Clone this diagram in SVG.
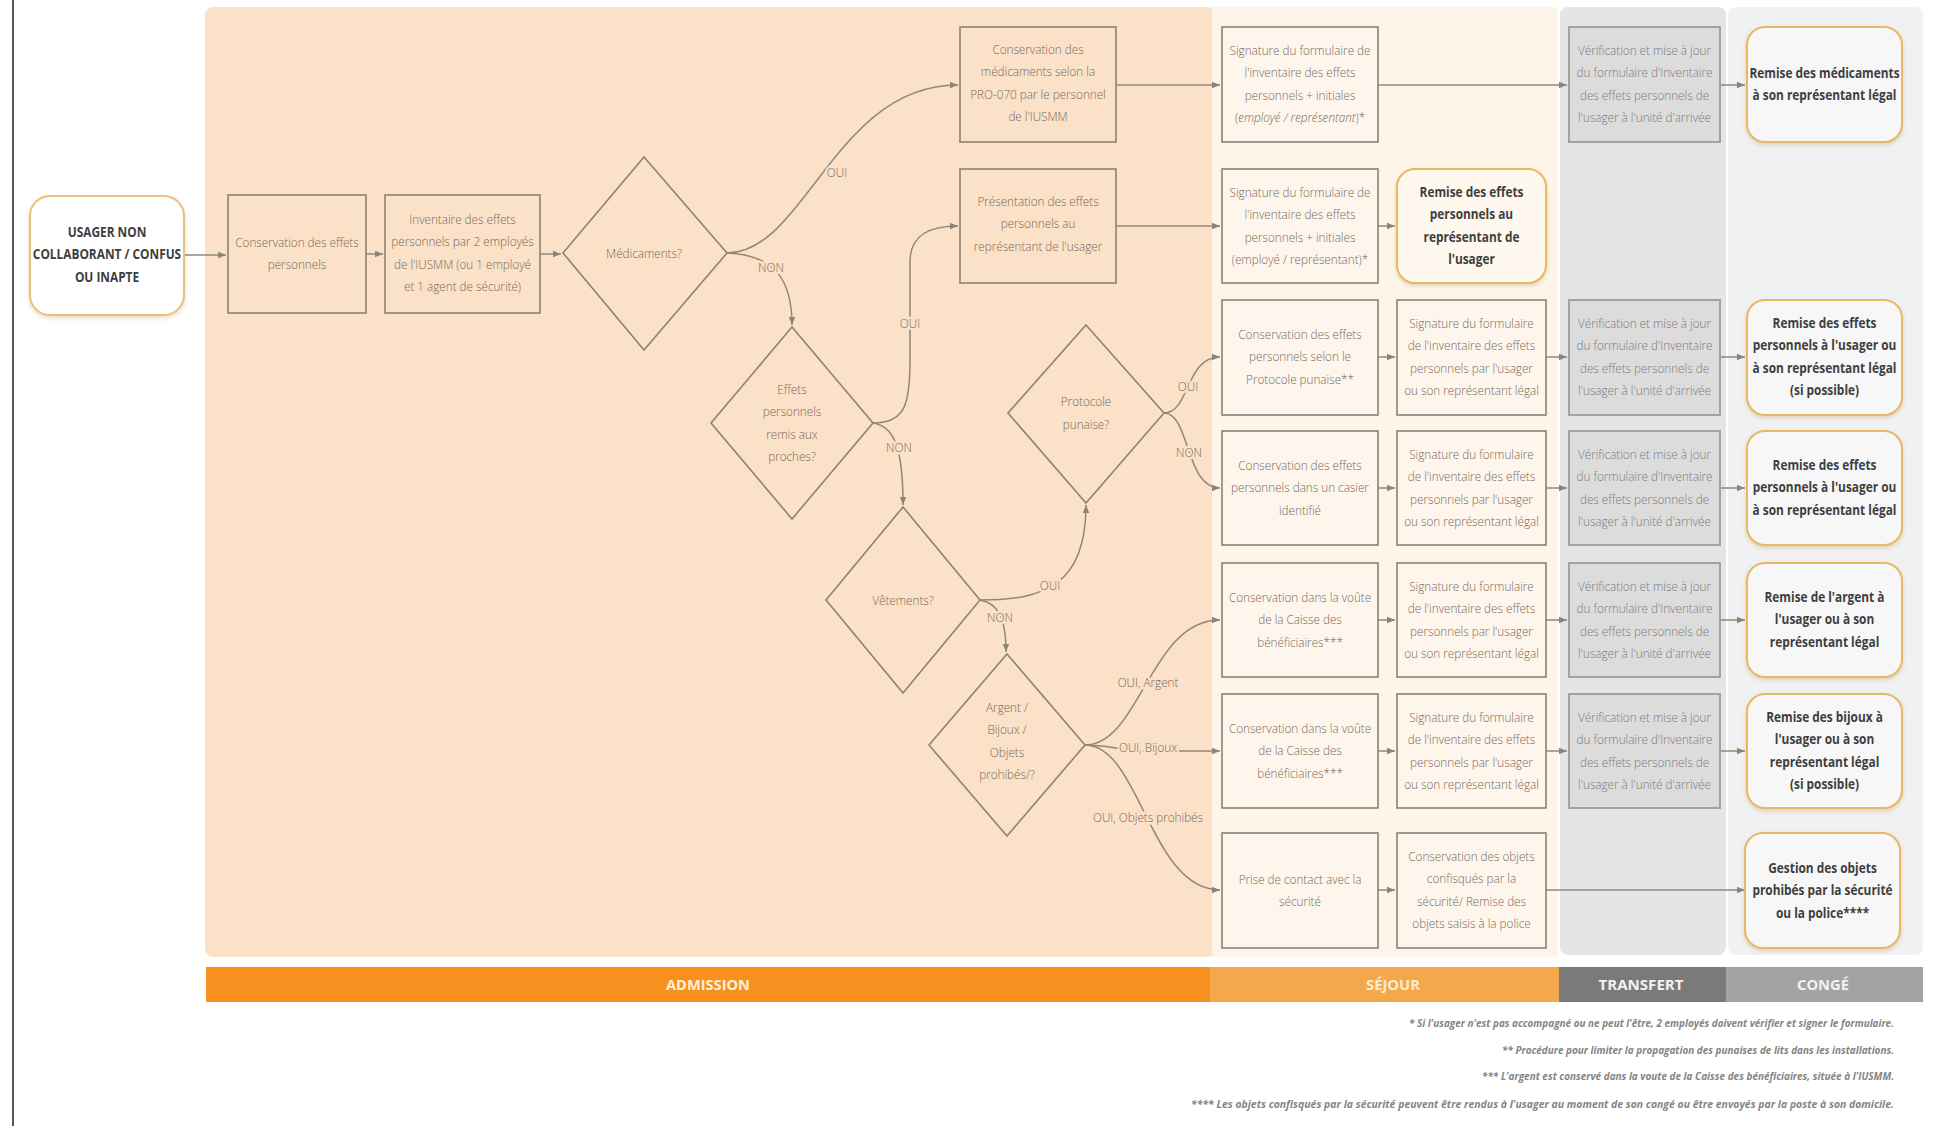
<svg xmlns="http://www.w3.org/2000/svg" width="1935" height="1126" viewBox="0 0 1935 1126">
  <defs>
    <marker id="ah" viewBox="0 0 10 10" refX="10" refY="5" markerWidth="9" markerHeight="8" markerUnits="userSpaceOnUse" orient="auto">
      <path d="M0,1 L10,5 L0,9 z" fill="#8E8476"/>
    </marker>
    <filter id="soft" x="-10%" y="-10%" width="120%" height="130%">
      <feDropShadow dx="0" dy="2" stdDeviation="2" flood-color="#B89058" flood-opacity="0.35"/>
    </filter>
    <style>
      .lane-adm { fill: #FBE1C7; }
      .lane-sej { fill: #FEF5EA; }
      .lane-tra { fill: #E5E5E5; }
      .lane-con { fill: #F0F1F2; }
      .box { fill: none; stroke: #8E8271; stroke-width: 1.6; }
      .box-s { fill: #FEF6EC; stroke: #8E8271; stroke-width: 1.6; }
      .box-t { fill: #DCDCDC; stroke: #A2A2A2; stroke-width: 2; }
      .dia { fill: none; stroke: #8E8271; stroke-width: 1.6; }
      .end { fill: #F7F7F7; stroke: #E8B865; stroke-width: 2; filter: url(#soft); }
      .end-w { fill: #FFFFFF; stroke: #E8C27C; stroke-width: 2; filter: url(#soft); }
      .end-p { fill: #FFF8EE; stroke: #E8B865; stroke-width: 2; filter: url(#soft); }
      .t { font-family: "Open Sans", "Liberation Sans", sans-serif; font-size: 13px; font-weight: 300; fill: #76695B; text-anchor: middle; }
      .tt { font-family: "Open Sans", "Liberation Sans", sans-serif; font-size: 13px; font-weight: 300; fill: #7A7A7A; text-anchor: middle; }
      .b { font-family: "Open Sans", "Liberation Sans", sans-serif; font-size: 13.5px; font-weight: 700; fill: #3E3E3E; text-anchor: middle; }
      .lbl { font-family: "Open Sans", "Liberation Sans", sans-serif; font-size: 13px; font-weight: 300; fill: #76695B; text-anchor: middle; stroke: #FBE1C7; stroke-width: 5; paint-order: stroke; stroke-linejoin: round; }
      .em { font-style: italic; }
      .con { fill: none; stroke: #918779; stroke-width: 1.5; marker-end: url(#ah); }
      .bar { font-family: "Open Sans", "Liberation Sans", sans-serif; font-size: 15px; font-weight: 700; text-anchor: middle; }
      .note { font-family: "Open Sans", "Liberation Sans", sans-serif; font-size: 10.5px; font-weight: 700; font-style: italic; fill: #858585; text-anchor: end; }
    </style>
  </defs>

  <rect width="1935" height="1126" fill="#FFFFFF"/>
  <line x1="13" y1="0" x2="13" y2="1126" stroke="#222222" stroke-width="1.5"/>

  <!-- swimlane backgrounds -->
  <g id="lanes">
    <rect class="lane-adm" x="205" y="7" width="1010" height="950" rx="8"/>
    <rect class="lane-sej" x="1212" y="7" width="346" height="950"/>
    <rect class="lane-tra" x="1560" y="7" width="166" height="948" rx="8"/>
    <rect class="lane-con" x="1728" y="7" width="195" height="948" rx="8"/>
  </g>

  <!-- phase bar -->
  <g id="phase-bar">
    <rect x="206" y="967" width="1004" height="35" fill="#F7901E"/>
    <rect x="1210" y="967" width="349" height="35" fill="#F3A84C"/>
    <rect x="1559" y="967" width="167" height="35" fill="#7A7A7A"/>
    <rect x="1726" y="967" width="197" height="35" fill="#A3A3A3"/>
    <text class="bar" x="708" y="990" fill="#FFF1DC" textLength="84" lengthAdjust="spacingAndGlyphs">ADMISSION</text>
    <text class="bar" x="1393" y="990" fill="#FFEBD2" textLength="54" lengthAdjust="spacingAndGlyphs">SÉJOUR</text>
    <text class="bar" x="1641" y="990" fill="#F2F2F2" textLength="85" lengthAdjust="spacingAndGlyphs">TRANSFERT</text>
    <text class="bar" x="1823" y="990" fill="#F2F2F2" textLength="52" lengthAdjust="spacingAndGlyphs">CONGÉ</text>
  </g>

  <!-- connectors -->
  <g id="connectors">
    <path class="con" d="M184,255 L226,255"/>
    <path class="con" d="M366,254 L383,254"/>
    <path class="con" d="M540,254 L561,254"/>
    <path class="con" d="M727,253 C805,253 835,85 958,85"/>
    <path class="con" d="M727,253 C775,255 792,280 792,325"/>
    <path class="con" d="M873,423 C905,423 910,405 910,360 L910,262 C910,238 925,226 958,226"/>
    <path class="con" d="M873,423 C893,426 903,445 903,505"/>
    <path class="con" d="M980,600 C1045,600 1086,585 1086,505"/>
    <path class="con" d="M980,600 C998,603 1006,618 1006,652"/>
    <path class="con" d="M1164,413 C1190,413 1185,357 1220,357"/>
    <path class="con" d="M1164,413 C1190,413 1185,488 1220,488"/>
    <path class="con" d="M1085,745 C1140,745 1150,620 1220,620"/>
    <path class="con" d="M1085,745 C1110,745 1120,751 1150,751 L1220,751"/>
    <path class="con" d="M1085,745 C1140,745 1150,890 1220,890"/>
    <path class="con" d="M1116,85 L1220,85"/>
    <path class="con" d="M1378,85 L1567,85"/>
    <path class="con" d="M1720,85 L1745,85"/>
    <path class="con" d="M1116,226 L1220,226"/>
    <path class="con" d="M1378,226 L1395,226"/>
    <path class="con" d="M1378,357 L1395,357"/>
    <path class="con" d="M1546,357 L1567,357"/>
    <path class="con" d="M1720,357 L1745,357"/>
    <path class="con" d="M1378,488 L1395,488"/>
    <path class="con" d="M1546,488 L1567,488"/>
    <path class="con" d="M1720,488 L1745,488"/>
    <path class="con" d="M1378,620 L1395,620"/>
    <path class="con" d="M1546,620 L1567,620"/>
    <path class="con" d="M1720,620 L1745,620"/>
    <path class="con" d="M1378,751 L1395,751"/>
    <path class="con" d="M1546,751 L1567,751"/>
    <path class="con" d="M1720,751 L1745,751"/>
    <path class="con" d="M1378,890 L1395,890"/>
    <path class="con" d="M1546,890 L1745,890"/>
    <!-- branch labels -->
    <text class="lbl" transform="translate(837 177) scale(0.9 1)">OUI</text>
    <text class="lbl" transform="translate(771 272) scale(0.9 1)">NON</text>
    <text class="lbl" transform="translate(910 328) scale(0.9 1)">OUI</text>
    <text class="lbl" transform="translate(899 452) scale(0.9 1)">NON</text>
    <text class="lbl" transform="translate(1050 590) scale(0.9 1)">OUI</text>
    <text class="lbl" transform="translate(1000 622) scale(0.9 1)">NON</text>
    <text class="lbl" transform="translate(1188 391) scale(0.9 1)">OUI</text>
    <text class="lbl" transform="translate(1189 457) scale(0.9 1)">NON</text>
    <text class="lbl" transform="translate(1148 687) scale(0.9 1)">OUI, Argent</text>
    <text class="lbl" transform="translate(1148 752) scale(0.9 1)">OUI, Bijoux</text>
    <text class="lbl" transform="translate(1148 822) scale(0.9 1)">OUI, Objets prohibés</text>
  </g>

  <!-- admission -->
  <g id="usager">
    <rect class="end-w" x="30" y="196" width="154" height="119" rx="20"/>
    <text class="b" fill="#4A4A4A" transform="translate(107 0) scale(0.88 1)"><tspan x="0" y="237">USAGER NON</tspan><tspan x="0" dy="22.5">COLLABORANT / CONFUS</tspan><tspan x="0" dy="22.5">OU INAPTE</tspan></text>
  </g>
  <g id="conservation-effets">
    <rect class="box" x="228" y="195" width="138" height="118"/>
    <text class="t" transform="translate(297 0) scale(0.9 1)"><tspan x="0" y="247">Conservation des effets</tspan><tspan x="0" dy="22.5">personnels</tspan></text>
  </g>
  <g id="inventaire">
    <rect class="box" x="385" y="195" width="155" height="118"/>
    <text class="t" transform="translate(462.5 0) scale(0.9 1)"><tspan x="0" y="224">Inventaire des effets</tspan><tspan x="0" dy="22.5">personnels par 2 employés</tspan><tspan x="0" dy="22.5">de l'IUSMM (ou 1 employé</tspan><tspan x="0" dy="22.5">et 1 agent de sécurité)</tspan></text>
  </g>
  <g id="q-medicaments">
    <polygon class="dia" points="644,157 727,253 644,350 563,253"/>
    <text class="t" transform="translate(644 257.5) scale(0.9 1)">Médicaments?</text>
  </g>
  <g id="conservation-medicaments">
    <rect class="box" x="960" y="27" width="156" height="115"/>
    <text class="t" transform="translate(1038 0) scale(0.9 1)"><tspan x="0" y="54">Conservation des</tspan><tspan x="0" dy="22.5">médicaments selon la</tspan><tspan x="0" dy="22.5">PRO-070 par le personnel</tspan><tspan x="0" dy="22.5">de l'IUSMM</tspan></text>
  </g>
  <g id="presentation">
    <rect class="box" x="960" y="169" width="156" height="114"/>
    <text class="t" transform="translate(1038 0) scale(0.9 1)"><tspan x="0" y="206">Présentation des effets</tspan><tspan x="0" dy="22.5">personnels au</tspan><tspan x="0" dy="22.5">représentant de l'usager</tspan></text>
  </g>
  <g id="q-proches">
    <polygon class="dia" points="792,327 873,423 792,519 711,423"/>
    <text class="t" transform="translate(792 0) scale(0.9 1)"><tspan x="0" y="394">Effets</tspan><tspan x="0" dy="22.5">personnels</tspan><tspan x="0" dy="22.5">remis aux</tspan><tspan x="0" dy="22.5">proches?</tspan></text>
  </g>
  <g id="q-vetements">
    <polygon class="dia" points="903,507 980,600 903,693 826,600"/>
    <text class="t" transform="translate(903 604.5) scale(0.9 1)">Vêtements?</text>
  </g>
  <g id="q-punaise">
    <polygon class="dia" points="1086,325 1164,413 1086,503 1008,413"/>
    <text class="t" transform="translate(1086 0) scale(0.9 1)"><tspan x="0" y="406">Protocole</tspan><tspan x="0" dy="23">punaise?</tspan></text>
  </g>
  <g id="q-argent">
    <polygon class="dia" points="1007,654 1085,745 1007,836 929,745"/>
    <text class="t" transform="translate(1007 0) scale(0.9 1)"><tspan x="0" y="712">Argent /</tspan><tspan x="0" dy="22.5">Bijoux /</tspan><tspan x="0" dy="22.5">Objets</tspan><tspan x="0" dy="22.5">prohibés/?</tspan></text>
  </g>

  <!-- sejour -->
  <g id="signature-medicaments">
    <rect class="box-s" x="1222" y="27" width="156" height="115"/>
    <text class="t" transform="translate(1300 0) scale(0.9 1)"><tspan x="0" y="55">Signature du formulaire de</tspan><tspan x="0" dy="22.5">l'inventaire des effets</tspan><tspan x="0" dy="22.5">personnels + initiales</tspan><tspan x="0" dy="22.5">(<tspan class="em">employé / représentant</tspan>)*</tspan></text>
  </g>
  <g id="signature-representant">
    <rect class="box-s" x="1222" y="169" width="156" height="114"/>
    <text class="t" transform="translate(1300 0) scale(0.9 1)"><tspan x="0" y="197">Signature du formulaire de</tspan><tspan x="0" dy="22.5">l'inventaire des effets</tspan><tspan x="0" dy="22.5">personnels + initiales</tspan><tspan x="0" dy="22.5">(employé / représentant)*</tspan></text>
  </g>
  <g id="remise-representant">
    <rect class="end-p" x="1397" y="169" width="149" height="114" rx="18"/>
    <text class="b" transform="translate(1471.5 0) scale(0.88 1)"><tspan x="0" y="197">Remise des effets</tspan><tspan x="0" dy="22.5">personnels au</tspan><tspan x="0" dy="22.5">représentant de</tspan><tspan x="0" dy="22.5">l'usager</tspan></text>
  </g>
  <g id="conservation-punaise">
    <rect class="box-s" x="1222" y="300" width="156" height="115"/>
    <text class="t" transform="translate(1300 0) scale(0.9 1)"><tspan x="0" y="339">Conservation des effets</tspan><tspan x="0" dy="22.5">personnels selon le</tspan><tspan x="0" dy="22.5">Protocole punaise**</tspan></text>
  </g>
  <g id="conservation-casier">
    <rect class="box-s" x="1222" y="431" width="156" height="114"/>
    <text class="t" transform="translate(1300 0) scale(0.9 1)"><tspan x="0" y="470">Conservation des effets</tspan><tspan x="0" dy="22.5">personnels dans un casier</tspan><tspan x="0" dy="22.5">identifié</tspan></text>
  </g>
  <g id="voute-argent">
    <rect class="box-s" x="1222" y="563" width="156" height="114"/>
    <text class="t" transform="translate(1300 0) scale(0.9 1)"><tspan x="0" y="602">Conservation dans la voûte</tspan><tspan x="0" dy="22.5">de la Caisse des</tspan><tspan x="0" dy="22.5">bénéficiaires***</tspan></text>
  </g>
  <g id="voute-bijoux">
    <rect class="box-s" x="1222" y="694" width="156" height="114"/>
    <text class="t" transform="translate(1300 0) scale(0.9 1)"><tspan x="0" y="733">Conservation dans la voûte</tspan><tspan x="0" dy="22.5">de la Caisse des</tspan><tspan x="0" dy="22.5">bénéficiaires***</tspan></text>
  </g>
  <g id="contact-securite">
    <rect class="box-s" x="1222" y="833" width="156" height="115"/>
    <text class="t" transform="translate(1300 0) scale(0.9 1)"><tspan x="0" y="884">Prise de contact avec la</tspan><tspan x="0" dy="22.5">sécurité</tspan></text>
  </g>
  <g id="signature-punaise">
    <rect class="box-s" x="1397" y="300" width="149" height="115"/>
    <text class="t" transform="translate(1471.5 0) scale(0.9 1)"><tspan x="0" y="328">Signature du formulaire</tspan><tspan x="0" dy="22.5">de l'inventaire des effets</tspan><tspan x="0" dy="22.5">personnels par l'usager</tspan><tspan x="0" dy="22.5">ou son représentant légal</tspan></text>
  </g>
  <g id="signature-casier">
    <rect class="box-s" x="1397" y="431" width="149" height="114"/>
    <text class="t" transform="translate(1471.5 0) scale(0.9 1)"><tspan x="0" y="459">Signature du formulaire</tspan><tspan x="0" dy="22.5">de l'inventaire des effets</tspan><tspan x="0" dy="22.5">personnels par l'usager</tspan><tspan x="0" dy="22.5">ou son représentant légal</tspan></text>
  </g>
  <g id="signature-argent">
    <rect class="box-s" x="1397" y="563" width="149" height="114"/>
    <text class="t" transform="translate(1471.5 0) scale(0.9 1)"><tspan x="0" y="591">Signature du formulaire</tspan><tspan x="0" dy="22.5">de l'inventaire des effets</tspan><tspan x="0" dy="22.5">personnels par l'usager</tspan><tspan x="0" dy="22.5">ou son représentant légal</tspan></text>
  </g>
  <g id="signature-bijoux">
    <rect class="box-s" x="1397" y="694" width="149" height="114"/>
    <text class="t" transform="translate(1471.5 0) scale(0.9 1)"><tspan x="0" y="722">Signature du formulaire</tspan><tspan x="0" dy="22.5">de l'inventaire des effets</tspan><tspan x="0" dy="22.5">personnels par l'usager</tspan><tspan x="0" dy="22.5">ou son représentant légal</tspan></text>
  </g>
  <g id="objets-confisques">
    <rect class="box-s" x="1397" y="833" width="149" height="115"/>
    <text class="t" transform="translate(1471.5 0) scale(0.9 1)"><tspan x="0" y="861">Conservation des objets</tspan><tspan x="0" dy="22.5">confisqués par la</tspan><tspan x="0" dy="22.5">sécurité/  Remise des</tspan><tspan x="0" dy="22.5">objets saisis à la police</tspan></text>
  </g>

  <!-- transfert -->
  <g id="verification-medicaments">
    <rect class="box-t" x="1569" y="27" width="151" height="115"/>
    <text class="tt" transform="translate(1644.5 0) scale(0.9 1)"><tspan x="0" y="55">Vérification et mise à jour</tspan><tspan x="0" dy="22.5">du formulaire d'Inventaire</tspan><tspan x="0" dy="22.5">des effets personnels de</tspan><tspan x="0" dy="22.5">l'usager à l'unité d'arrivée</tspan></text>
  </g>
  <g id="verification-punaise">
    <rect class="box-t" x="1569" y="300" width="151" height="115"/>
    <text class="tt" transform="translate(1644.5 0) scale(0.9 1)"><tspan x="0" y="328">Vérification et mise à jour</tspan><tspan x="0" dy="22.5">du formulaire d'Inventaire</tspan><tspan x="0" dy="22.5">des effets personnels de</tspan><tspan x="0" dy="22.5">l'usager à l'unité d'arrivée</tspan></text>
  </g>
  <g id="verification-casier">
    <rect class="box-t" x="1569" y="431" width="151" height="114"/>
    <text class="tt" transform="translate(1644.5 0) scale(0.9 1)"><tspan x="0" y="459">Vérification et mise à jour</tspan><tspan x="0" dy="22.5">du formulaire d'Inventaire</tspan><tspan x="0" dy="22.5">des effets personnels de</tspan><tspan x="0" dy="22.5">l'usager à l'unité d'arrivée</tspan></text>
  </g>
  <g id="verification-argent">
    <rect class="box-t" x="1569" y="563" width="151" height="114"/>
    <text class="tt" transform="translate(1644.5 0) scale(0.9 1)"><tspan x="0" y="591">Vérification et mise à jour</tspan><tspan x="0" dy="22.5">du formulaire d'Inventaire</tspan><tspan x="0" dy="22.5">des effets personnels de</tspan><tspan x="0" dy="22.5">l'usager à l'unité d'arrivée</tspan></text>
  </g>
  <g id="verification-bijoux">
    <rect class="box-t" x="1569" y="694" width="151" height="114"/>
    <text class="tt" transform="translate(1644.5 0) scale(0.9 1)"><tspan x="0" y="722">Vérification et mise à jour</tspan><tspan x="0" dy="22.5">du formulaire d'Inventaire</tspan><tspan x="0" dy="22.5">des effets personnels de</tspan><tspan x="0" dy="22.5">l'usager à l'unité d'arrivée</tspan></text>
  </g>

  <!-- conge -->
  <g id="remise-medicaments">
    <rect class="end" x="1747" y="27" width="155" height="115" rx="18"/>
    <text class="b" transform="translate(1824.5 0) scale(0.88 1)"><tspan x="0" y="78">Remise des médicaments</tspan><tspan x="0" dy="22.5">à son représentant légal</tspan></text>
  </g>
  <g id="remise-punaise">
    <rect class="end" x="1747" y="300" width="155" height="115" rx="18"/>
    <text class="b" transform="translate(1824.5 0) scale(0.88 1)"><tspan x="0" y="328">Remise des effets</tspan><tspan x="0" dy="22.5">personnels à l'usager ou</tspan><tspan x="0" dy="22.5">à son représentant légal</tspan><tspan x="0" dy="22.5">(si possible)</tspan></text>
  </g>
  <g id="remise-casier">
    <rect class="end" x="1747" y="431" width="155" height="114" rx="18"/>
    <text class="b" transform="translate(1824.5 0) scale(0.88 1)"><tspan x="0" y="470">Remise des effets</tspan><tspan x="0" dy="22.5">personnels à l'usager ou</tspan><tspan x="0" dy="22.5">à son représentant légal</tspan></text>
  </g>
  <g id="remise-argent">
    <rect class="end" x="1747" y="563" width="155" height="114" rx="18"/>
    <text class="b" transform="translate(1824.5 0) scale(0.88 1)"><tspan x="0" y="602">Remise de l'argent à</tspan><tspan x="0" dy="22.5">l'usager ou à son</tspan><tspan x="0" dy="22.5">représentant légal</tspan></text>
  </g>
  <g id="remise-bijoux">
    <rect class="end" x="1747" y="694" width="155" height="114" rx="18"/>
    <text class="b" transform="translate(1824.5 0) scale(0.88 1)"><tspan x="0" y="722">Remise des bijoux à</tspan><tspan x="0" dy="22.5">l'usager ou à son</tspan><tspan x="0" dy="22.5">représentant légal</tspan><tspan x="0" dy="22.5">(si possible)</tspan></text>
  </g>
  <g id="gestion-objets">
    <rect class="end" x="1745" y="833" width="155" height="115" rx="18"/>
    <text class="b" transform="translate(1822.5 0) scale(0.88 1)"><tspan x="0" y="873">Gestion des objets</tspan><tspan x="0" dy="22.5">prohibés par la sécurité</tspan><tspan x="0" dy="22.5">ou la police****</tspan></text>
  </g>

  <!-- footnotes -->
  <g id="notes">
    <text class="note" x="1894" y="1027" textLength="485" lengthAdjust="spacingAndGlyphs">* Si l'usager n'est pas accompagné ou ne peut l'être, 2 employés doivent vérifier et signer le formulaire.</text>
    <text class="note" x="1894" y="1054" textLength="392" lengthAdjust="spacingAndGlyphs">** Procédure pour limiter la propagation des punaises de lits dans les installations.</text>
    <text class="note" x="1894" y="1080" textLength="412" lengthAdjust="spacingAndGlyphs">*** L'argent est conservé dans la voute de la Caisse des bénéficiaires, située à l'IUSMM.</text>
    <text class="note" x="1894" y="1108" textLength="703" lengthAdjust="spacingAndGlyphs">**** Les objets confisqués par la sécurité peuvent être rendus à l'usager au moment de son congé ou être envoyés par la poste à son domicile.</text>
  </g>
</svg>
